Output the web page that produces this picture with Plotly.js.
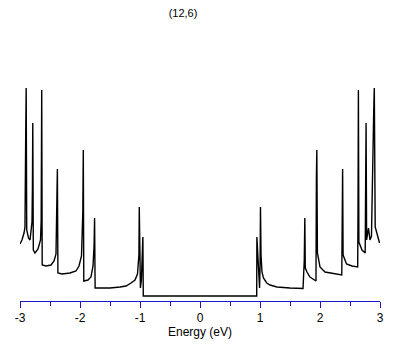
<!DOCTYPE html>
<html>
<head>
<meta charset="utf-8">
<script src="https://cdn.plot.ly/plotly-3.0.1.min.js"></script>
<style>html,body{margin:0;padding:0;background:#fff;}#chart{width:409px;height:345px;}</style>
</head>
<body>
<div id="chart"></div>
<script>
// Density of states of the (12,6) nanotube (arbitrary units) vs energy (eV)
const energy = [
  -3.000,-2.967,-2.933,-2.917,-2.905,-2.897,-2.888,-2.858,-2.833,-2.817,-2.800,-2.793,-2.787,-2.778,
  -2.750,-2.700,-2.658,-2.647,-2.638,-2.630,-2.567,-2.483,-2.433,-2.400,-2.387,-2.377,-2.368,
  -2.300,-2.167,-2.067,-2.017,-1.975,-1.953,-1.945,-1.937,-1.867,-1.817,-1.783,-1.765,-1.757,-1.748,
  -1.667,-1.500,-1.333,-1.233,-1.150,-1.083,-1.042,-1.018,-1.012,-1.003,-0.993,-0.977,-0.963,-0.952,-0.945,
  0.945,0.948,0.960,0.977,0.993,1.002,1.008,1.017,1.033,1.058,1.112,1.167,1.283,1.500,1.717,
  1.738,1.747,1.755,1.783,1.833,1.933,1.940,1.947,1.957,2.000,2.083,2.250,2.363,2.370,2.377,2.385,
  2.442,2.533,2.628,2.633,2.640,2.648,2.700,2.753,2.760,2.768,2.777,2.808,2.833,2.858,2.895,2.905,
  2.920,2.950,2.992
];
const dos = [
  0.52,0.56,0.63,0.69,1.59,2.08,0.66,0.58,0.56,0.64,0.74,1.08,1.73,0.46,
  0.43,0.47,0.56,0.76,2.06,0.31,0.30,0.31,0.35,0.42,0.75,1.27,0.23,
  0.22,0.23,0.25,0.30,0.40,0.84,1.46,0.15,0.16,0.19,0.30,0.51,0.78,0.08,
  0.08,0.08,0.09,0.10,0.13,0.16,0.22,0.41,0.89,0.34,0.08,0.16,0.44,0.59,0.00,
  0.00,0.59,0.44,0.16,0.08,0.34,0.89,0.41,0.24,0.18,0.13,0.11,0.09,0.08,0.075,
  0.36,0.78,0.28,0.24,0.19,0.15,1.19,1.46,0.43,0.29,0.24,0.22,0.21,0.74,1.27,0.41,
  0.32,0.30,0.29,0.78,2.06,0.54,0.46,0.43,1.08,1.73,0.56,0.68,0.56,0.60,1.84,2.08,
  0.69,0.62,0.53
];
const tickVals = [-3,-2,-1,0,1,2,3];
const tickText = ['-3','-2','-1','0','1','2','3'];
const chartTitle = '(12,6)';
const xTitle = 'Energy (eV)';

const axisBlue = '#1a1acc';
const trace = {
  x: energy, y: dos, type: 'scatter', mode: 'lines',
  line: {color: '#000', width: 1.4},
  hoverinfo: 'skip'
};
const layout = {
  width: 409, height: 345,
  margin: {l: 20, r: 29, t: 60, b: 44, pad: 0},
  paper_bgcolor: '#fff', plot_bgcolor: '#fff',
  showlegend: false,
  font: {family: 'Liberation Sans, Arial, sans-serif', color: '#000', size: 12},
  title: {
    text: chartTitle, font: {size: 11, color: '#000'},
    xref: 'container', x: 183/409, xanchor: 'center',
    yref: 'container', y: 1 - 13/345, yanchor: 'middle'
  },
  xaxis: {
    range: [-3, 3], showgrid: false, zeroline: false,
    showline: true, linecolor: axisBlue, linewidth: 1,
    ticks: 'outside', ticklen: 6, tickcolor: axisBlue, tickwidth: 1,
    tickvals: tickVals, ticktext: tickText,
    tickfont: {size: 12, color: '#000'},
    minor: {dtick: 0.5, ticks: 'outside', ticklen: 4, tickcolor: axisBlue, tickwidth: 1, showgrid: false},
    title: {text: xTitle, font: {size: 12, color: '#000'}, standoff: 2}
  },
  yaxis: {range: [-0.05, 2.36], visible: false, showgrid: false, zeroline: false}
};
Plotly.newPlot('chart', [trace], layout, {staticPlot: true, displayModeBar: false});
</script>
</body>
</html>
